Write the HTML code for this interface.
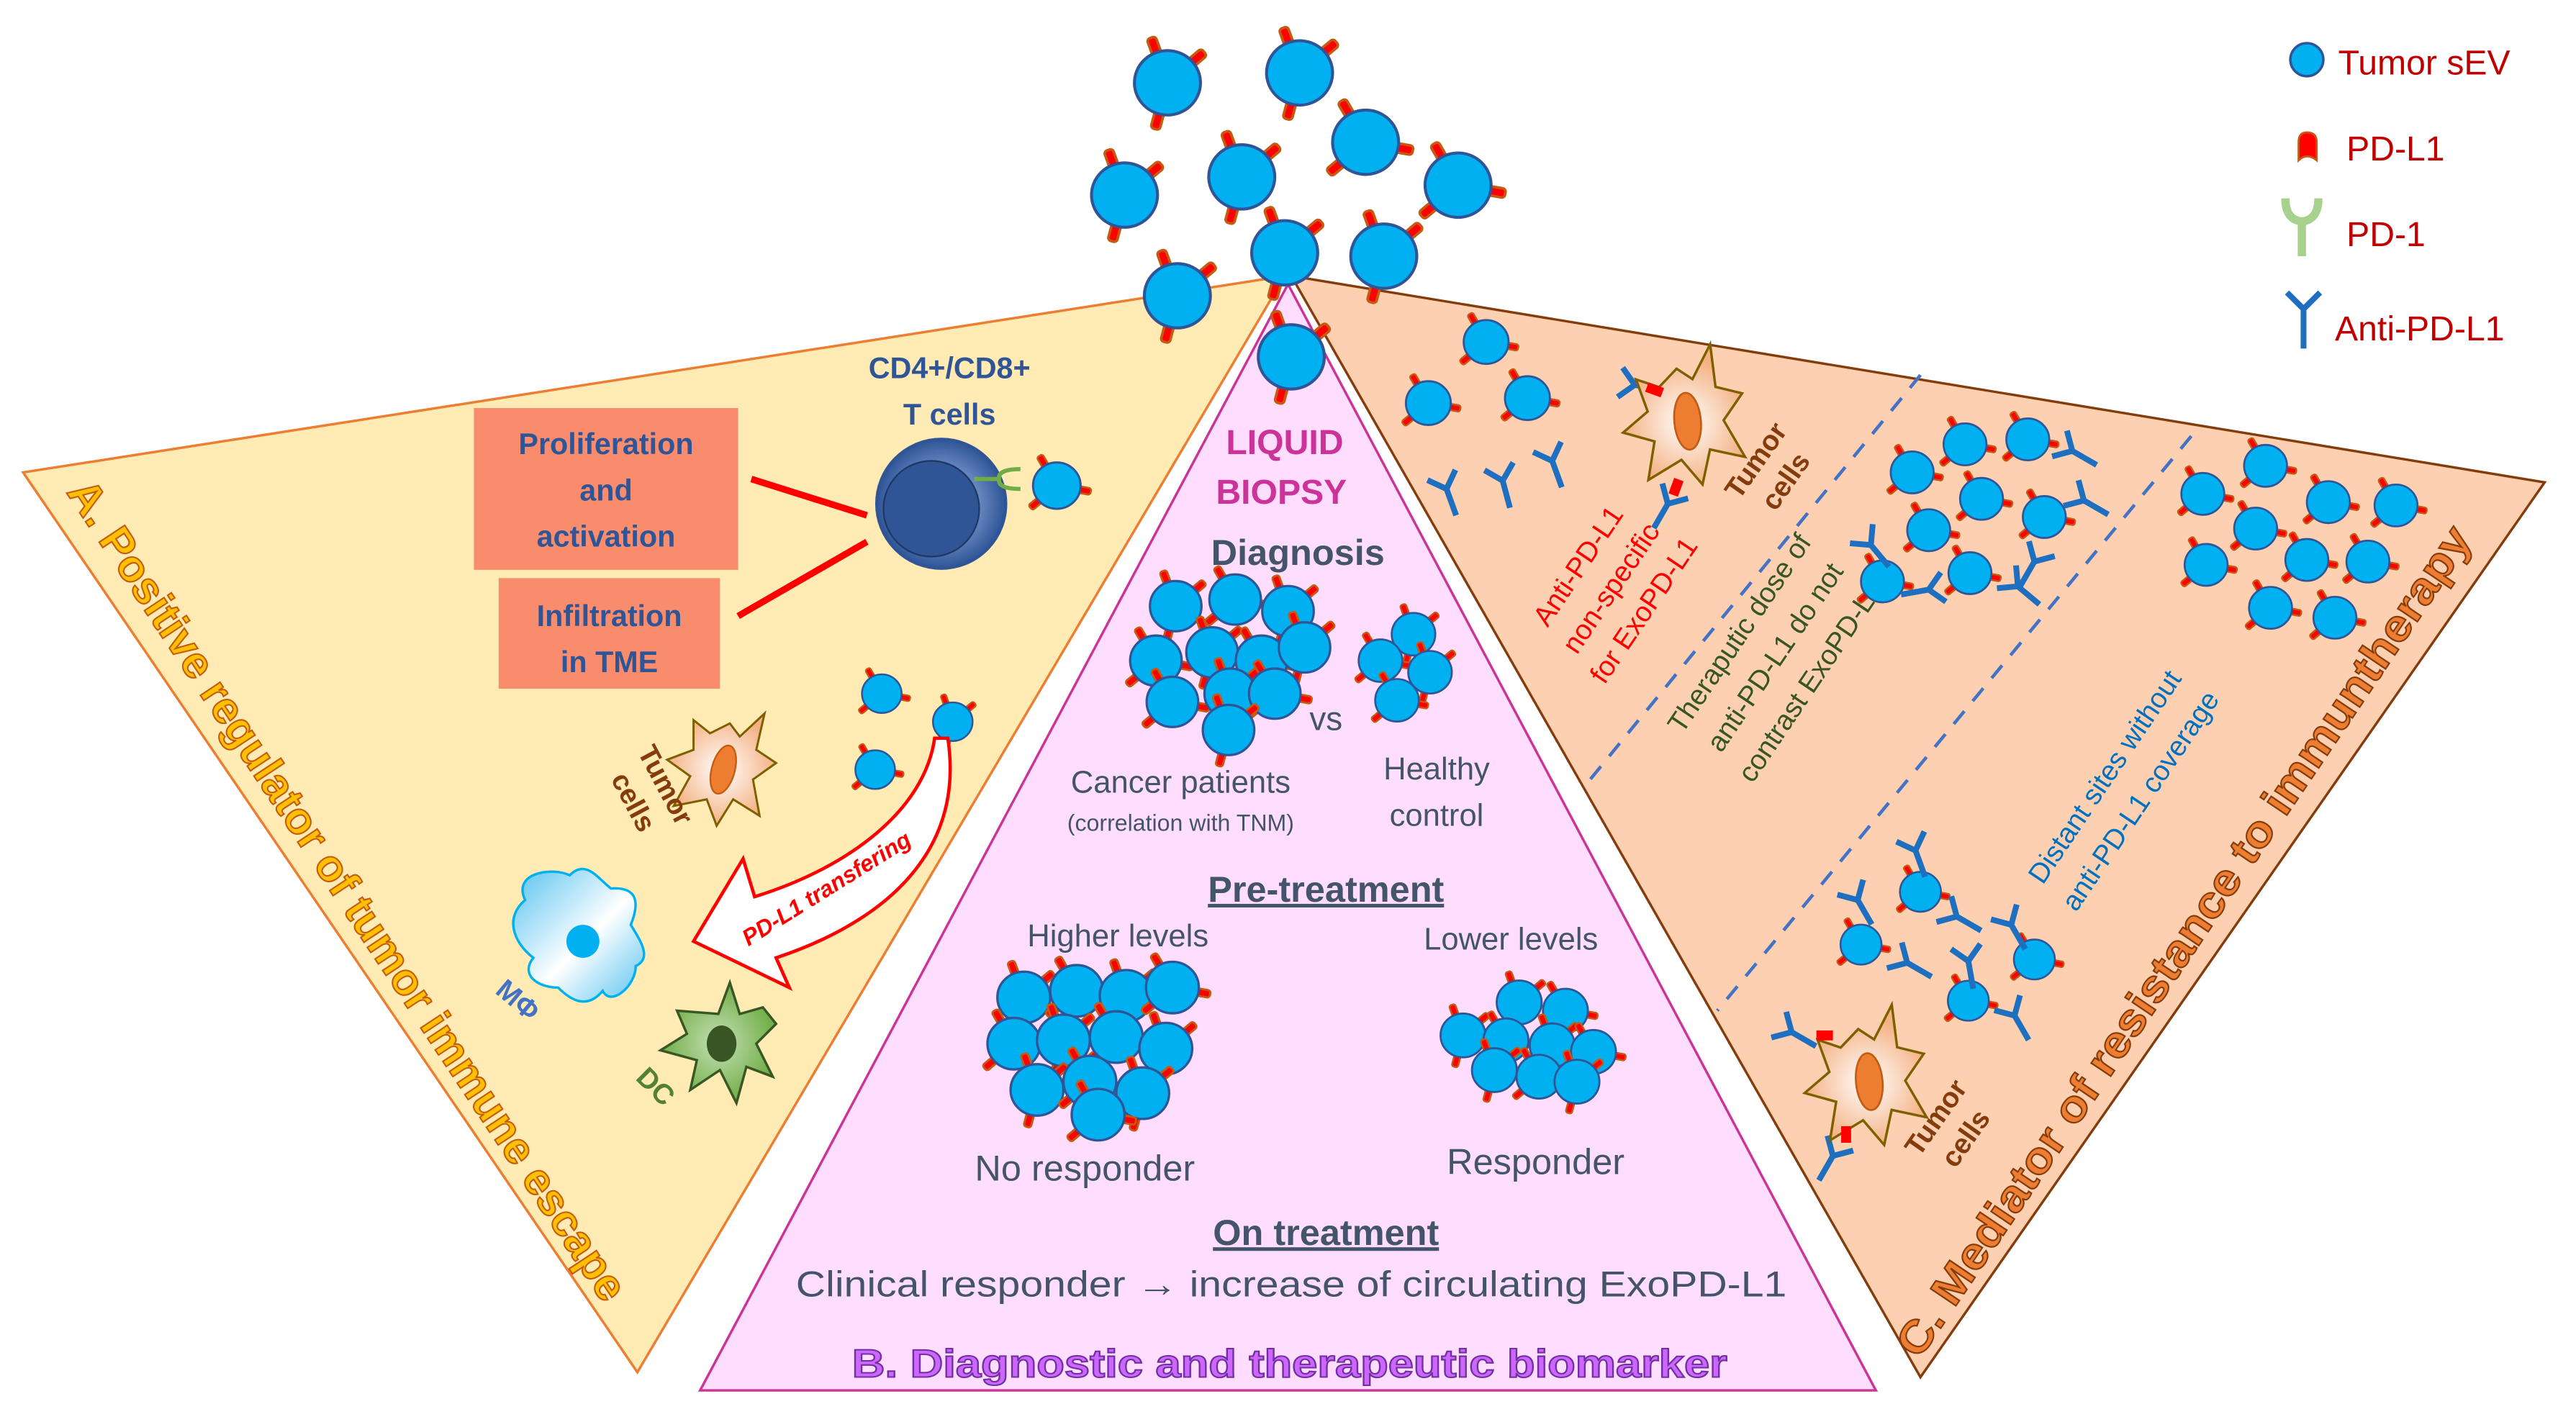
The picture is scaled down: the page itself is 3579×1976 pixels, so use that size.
<!DOCTYPE html>
<html><head><meta charset="utf-8"><style>html,body{margin:0;padding:0;background:#fff}svg{display:block}</style></head>
<body>
<svg width="3579" height="1976" viewBox="0 0 1560 861" xmlns="http://www.w3.org/2000/svg" font-family="'Liberation Sans', sans-serif">
<defs>
<g id="ev">
 <g fill="#FF0000" stroke="#C55A11" stroke-width="1.6">
  <rect x="-2.8" y="-29" width="5.6" height="12" rx="2" transform="rotate(-20)"/>
  <rect x="-2.8" y="-29" width="5.6" height="12" rx="2" transform="rotate(50)"/>
  <rect x="-2.8" y="-29" width="5.6" height="12" rx="2" transform="rotate(195)"/>
 </g>
 <ellipse rx="20" ry="19.5" fill="#00B0F0" stroke="#2F5597" stroke-width="1.8"/>
</g>
<g id="ev2">
 <g fill="#FF0000" stroke="#C55A11" stroke-width="1.6">
  <rect x="-2.8" y="-29" width="5.6" height="12" rx="2" transform="rotate(-30)"/>
  <rect x="-2.8" y="-29" width="5.6" height="12" rx="2" transform="rotate(100)"/>
  <rect x="-2.8" y="-29" width="5.6" height="12" rx="2" transform="rotate(230)"/>
 </g>
 <ellipse rx="20" ry="19.5" fill="#00B0F0" stroke="#2F5597" stroke-width="1.8"/>
</g>
<path id="ab" d="M0,0 V17 M0,0 L-9,-9 M0,0 L9,-9" stroke="#1F6FC0" stroke-width="3.5" fill="none"/>
<radialGradient id="tg"><stop offset="0" stop-color="#fff"/><stop offset="1" stop-color="#F4B183"/></radialGradient>
<radialGradient id="tc"><stop offset="0.3" stop-color="#8FAADC"/><stop offset="1" stop-color="#2F5597"/></radialGradient>
<linearGradient id="mg" x1="0" y1="0" x2="1" y2="1"><stop offset="0" stop-color="#57C2F0"/><stop offset="0.55" stop-color="#fff"/><stop offset="1" stop-color="#57C2F0"/></linearGradient>
<radialGradient id="dg"><stop offset="0" stop-color="#C5E0B4"/><stop offset="1" stop-color="#70AD47"/></radialGradient>
<g id="tumor">
 <path d="M-18,-30 L-8,-22 L4,-28 L10,-20 L25,-34 L20,-12 L32,-4 L18,6 L22,28 L6,18 L-4,34 L-10,18 L-30,22 L-20,4 L-34,-6 L-18,-12 Z" fill="url(#tg)" stroke="#7F6000" stroke-width="1.3"/>
 <ellipse rx="7" ry="15" transform="rotate(15)" fill="#ED7D31" stroke="#C55A11" stroke-width="1"/>
</g>
</defs>

<polygon points="14,286 778,167 386,831" fill="#FFEBB3" stroke="#ED7D31" stroke-width="1.5"/>
<polygon points="782,167 1541,292 1163,834" fill="#FCD0B1" stroke="#843C0C" stroke-width="1.5"/>
<polygon points="780,172 424,842 1136,842" fill="#FFDDFF" stroke="#CC3399" stroke-width="1.5"/>

<use href="#ev" transform="translate(707,50)"/>
<use href="#ev" transform="translate(787,44)"/>
<use href="#ev2" transform="translate(827,86)"/>
<use href="#ev" transform="translate(681,118)"/>
<use href="#ev" transform="translate(752,107)"/>
<use href="#ev2" transform="translate(883,112)"/>
<use href="#ev" transform="translate(778,153)"/>
<use href="#ev" transform="translate(838,155)"/>
<use href="#ev" transform="translate(713,179)"/>
<use href="#ev" transform="translate(782,216)"/>

<circle cx="1397" cy="36" r="10" fill="#00B0F0" stroke="#2F5597" stroke-width="1.5"/>
<text x="1416" y="45" font-size="21" fill="#C00000">Tumor sEV</text>
<path d="M1392,97 V86 Q1392,80 1397,80 Q1403,80 1403,86 V97 Q1397,92 1392,97 Z" fill="#FF0000" stroke="#C55A11" stroke-width="1.2"/>
<text x="1421" y="97" font-size="21" fill="#C00000">PD-L1</text>
<path d="M1384,120 Q1384,133 1394,134 Q1404,133 1404,120 M1394,134 V155" stroke="#A9D18E" stroke-width="5" fill="none"/>
<text x="1421" y="149" font-size="21" fill="#C00000">PD-1</text>
<path d="M1395,187 V211 M1395,187 L1385,177 M1395,187 L1405,177" stroke="#1F6FC0" stroke-width="3.5" fill="none"/>
<text x="1414" y="206" font-size="21" fill="#C00000">Anti-PD-L1</text>

<text x="575" y="229" font-size="18" font-weight="bold" fill="#2F5597" text-anchor="middle">CD4+/CD8+</text>
<text x="575" y="257" font-size="18" font-weight="bold" fill="#2F5597" text-anchor="middle">T cells</text>
<rect x="287" y="247" width="160" height="98" fill="#F98C6C"/>
<text font-size="18" font-weight="bold" fill="#2F5597" text-anchor="middle"><tspan x="367" y="275">Proliferation</tspan><tspan x="367" y="303">and</tspan><tspan x="367" y="331">activation</tspan></text>
<rect x="302" y="350" width="134" height="67" fill="#F98C6C"/>
<text font-size="18" font-weight="bold" fill="#2F5597" text-anchor="middle"><tspan x="369" y="379">Infiltration</tspan><tspan x="369" y="407">in TME</tspan></text>
<line x1="455" y1="290" x2="525" y2="312" stroke="#FF0000" stroke-width="4"/>
<line x1="447" y1="373" x2="525" y2="328" stroke="#FF0000" stroke-width="4"/>
<circle cx="570" cy="305" r="39" fill="url(#tc)" stroke="#2F5597" stroke-width="2"/>
<circle cx="564" cy="308" r="29" fill="#2F5597" stroke="#1F3864" stroke-width="1"/>
<path d="M590,290 H605 M618,284 Q604,284 605,290 Q604,296 618,296" stroke="#70AD47" stroke-width="2.5" fill="none"/>
<use href="#ev2" transform="translate(640,294) scale(0.72)"/>
<use href="#ev2" transform="translate(534,420) scale(0.6)"/>
<use href="#ev" transform="translate(577,437) scale(0.6)"/>
<use href="#ev2" transform="translate(530,466) scale(0.6)"/>
<use href="#tumor" transform="translate(438,466)"/>
<text font-size="17" font-weight="bold" fill="#843C0C" text-anchor="middle" transform="translate(398,478) rotate(62)"><tspan x="0" y="0">Tumor</tspan><tspan x="0" y="22">cells</tspan></text>
<path d="M574,447 C585,520 530,560 470,580 L478,598 L420,570 L450,520 L457,543 C515,525 560,490 566,447 Z" fill="#fff" stroke="#FF0000" stroke-width="2"/>
<text x="0" y="0" font-size="14" font-weight="bold" font-style="italic" fill="#FF0000" text-anchor="middle" transform="translate(503,542) rotate(-32)">PD-L1 transfering</text>
<path d="M318,545 C310,528 335,525 345,530 C355,520 362,532 370,538 C385,537 388,545 382,560 C388,570 395,580 385,585 C385,597 370,610 365,600 C355,612 345,605 338,598 C325,598 315,590 323,580 C310,570 306,555 318,545 Z" fill="url(#mg)" stroke="#00B0F0" stroke-width="1.5"/>
<circle cx="353" cy="570" r="10" fill="#00B0F0"/>
<text font-size="17" font-weight="bold" fill="#4472C4" text-anchor="middle" transform="translate(310,610) rotate(40)">MΦ</text>
<path d="M435,614 L442,595 L448,614 L462,610 L470,620 L458,632 L468,652 L452,646 L446,668 L436,648 L418,660 L422,642 L400,636 L416,626 L410,612 Z" fill="url(#dg)" stroke="#385723" stroke-width="1.5"/>
<ellipse cx="437" cy="632" rx="9" ry="11" fill="#375623"/>
<text font-size="17" font-weight="bold" fill="#548235" text-anchor="middle" transform="translate(393,662) rotate(45)">DC</text>
<text font-size="27" font-weight="bold" fill="#FFC000" stroke="#C55A11" stroke-width="0.9" transform="translate(40,298) rotate(56.5)" textLength="590" lengthAdjust="spacingAndGlyphs">A. Positive regulator of tumor immune escape</text>

<text x="778" y="275" font-size="21" font-weight="bold" fill="#CC3399" text-anchor="middle">LIQUID</text>
<text x="776" y="305" font-size="21" font-weight="bold" fill="#CC3399" text-anchor="middle">BIOPSY</text>
<text x="786" y="342" font-size="22" font-weight="bold" fill="#44546A" text-anchor="middle">Diagnosis</text>
<g>
<use href="#ev" transform="translate(712,367) scale(0.78)"/>
<use href="#ev2" transform="translate(748,363) scale(0.78)"/>
<use href="#ev" transform="translate(780,370) scale(0.78)"/>
<use href="#ev2" transform="translate(700,400) scale(0.78)"/>
<use href="#ev" transform="translate(734,395) scale(0.78)"/>
<use href="#ev2" transform="translate(764,400) scale(0.78)"/>
<use href="#ev" transform="translate(790,392) scale(0.78)"/>
<use href="#ev2" transform="translate(710,425) scale(0.78)"/>
<use href="#ev" transform="translate(745,420) scale(0.78)"/>
<use href="#ev2" transform="translate(772,420) scale(0.78)"/>
<use href="#ev" transform="translate(744,442) scale(0.78)"/>
</g>
<text x="803" y="442" font-size="20" fill="#44546A" text-anchor="middle">vs</text>
<use href="#ev" transform="translate(856,384) scale(0.66)"/>
<use href="#ev2" transform="translate(836,400) scale(0.66)"/>
<use href="#ev" transform="translate(866,407) scale(0.66)"/>
<use href="#ev2" transform="translate(846,424) scale(0.66)"/>
<text x="715" y="480" font-size="19" fill="#44546A" text-anchor="middle">Cancer patients</text>
<text x="715" y="503" font-size="14" fill="#44546A" text-anchor="middle">(correlation with TNM)</text>
<text x="870" y="472" font-size="19" fill="#44546A" text-anchor="middle">Healthy</text>
<text x="870" y="500" font-size="19" fill="#44546A" text-anchor="middle">control</text>
<text x="803" y="546" font-size="22" font-weight="bold" fill="#44546A" text-anchor="middle" text-decoration="underline">Pre-treatment</text>
<text x="677" y="573" font-size="19" fill="#44546A" text-anchor="middle">Higher levels</text>
<text x="915" y="575" font-size="19" fill="#44546A" text-anchor="middle">Lower levels</text>
<g>
<use href="#ev" transform="translate(620,604) scale(0.8)"/>
<use href="#ev2" transform="translate(652,600) scale(0.8)"/>
<use href="#ev" transform="translate(682,603) scale(0.8)"/>
<use href="#ev2" transform="translate(710,598) scale(0.8)"/>
<use href="#ev2" transform="translate(614,632) scale(0.8)"/>
<use href="#ev" transform="translate(644,630) scale(0.8)"/>
<use href="#ev2" transform="translate(676,628) scale(0.8)"/>
<use href="#ev" transform="translate(706,635) scale(0.8)"/>
<use href="#ev" transform="translate(628,660) scale(0.8)"/>
<use href="#ev2" transform="translate(660,655) scale(0.8)"/>
<use href="#ev" transform="translate(692,662) scale(0.8)"/>
<use href="#ev2" transform="translate(665,675) scale(0.8)"/>
</g>
<g>
<use href="#ev" transform="translate(920,607) scale(0.68)"/>
<use href="#ev2" transform="translate(948,612) scale(0.68)"/>
<use href="#ev" transform="translate(886,627) scale(0.68)"/>
<use href="#ev2" transform="translate(912,630) scale(0.68)"/>
<use href="#ev" transform="translate(940,633) scale(0.68)"/>
<use href="#ev2" transform="translate(965,637) scale(0.68)"/>
<use href="#ev" transform="translate(905,648) scale(0.68)"/>
<use href="#ev2" transform="translate(932,652) scale(0.68)"/>
<use href="#ev" transform="translate(955,655) scale(0.68)"/>
</g>
<text x="657" y="715" font-size="22" fill="#44546A" text-anchor="middle">No responder</text>
<text x="930" y="711" font-size="22" fill="#44546A" text-anchor="middle">Responder</text>
<text x="803" y="754" font-size="22" font-weight="bold" fill="#44546A" text-anchor="middle" text-decoration="underline">On treatment</text>
<text x="782" y="785" font-size="22" fill="#44546A" text-anchor="middle" textLength="600" lengthAdjust="spacingAndGlyphs">Clinical responder → increase of circulating ExoPD-L1</text>
<text x="781" y="834" font-size="24" font-weight="bold" fill="#CC66FF" stroke="#7030A0" stroke-width="0.9" text-anchor="middle" textLength="530" lengthAdjust="spacingAndGlyphs">B. Diagnostic and therapeutic biomarker</text>

<use href="#ev2" transform="translate(900,207) scale(0.68)"/>
<use href="#ev2" transform="translate(865,244) scale(0.68)"/>
<use href="#ev2" transform="translate(925,241) scale(0.68)"/>
<use href="#ab" transform="translate(876,296) rotate(-20)"/>
<use href="#ab" transform="translate(910,291) rotate(-15)"/>
<use href="#ab" transform="translate(940,279) rotate(-20)"/>
<use href="#ab" transform="translate(990,233) rotate(-80)"/>
<use href="#ab" transform="translate(1010,305) rotate(30)"/>
<use href="#tumor" transform="translate(1022,255) rotate(-20) scale(1.15)"/>
<rect x="997" y="233" width="10" height="6" fill="#FF0000" transform="rotate(20 1002 236)"/>
<rect x="1012" y="290" width="6" height="10" fill="#FF0000" transform="rotate(20 1015 295)"/>
<text font-size="17" font-weight="bold" fill="#843C0C" text-anchor="middle" transform="translate(1068,282) rotate(-55)"><tspan x="0" y="0">Tumor</tspan><tspan x="0" y="22">cells</tspan></text>
<text font-size="17" fill="#FF0000" text-anchor="middle" transform="translate(977,357) rotate(-56)"><tspan x="0" y="-20">Anti-PD-L1</tspan><tspan x="0" y="4">non-specific</tspan><tspan x="0" y="28">for ExoPD-L1</tspan></text>
<line x1="1163" y1="227" x2="963" y2="472" stroke="#4472C4" stroke-width="2" stroke-dasharray="10,8"/>
<line x1="1327" y1="264" x2="1040" y2="612" stroke="#4472C4" stroke-width="2" stroke-dasharray="10,8"/>
<text font-size="17" fill="#375623" text-anchor="middle" transform="translate(1078,400) rotate(-56)"><tspan x="0" y="-24">Theraputic dose of</tspan><tspan x="0" y="2">anti-PD-L1 do not</tspan><tspan x="0" y="28">contrast  ExoPD-L1</tspan></text>
<text font-size="17" fill="#0070C0" text-anchor="middle" transform="translate(1286,478) rotate(-56)"><tspan x="0" y="-8">Distant sites without</tspan><tspan x="0" y="18">anti-PD-L1 coverage</tspan></text>
<g>
<use href="#ev2" transform="translate(1158,286) scale(0.65)"/>
<use href="#ev2" transform="translate(1190,269) scale(0.65)"/>
<use href="#ev2" transform="translate(1228,266) scale(0.65)"/>
<use href="#ev2" transform="translate(1200,302) scale(0.65)"/>
<use href="#ev2" transform="translate(1168,321) scale(0.65)"/>
<use href="#ev2" transform="translate(1238,313) scale(0.65)"/>
<use href="#ev2" transform="translate(1140,352) scale(0.65)"/>
<use href="#ev2" transform="translate(1193,347) scale(0.65)"/>
<use href="#ab" transform="translate(1255,273) rotate(-60)"/>
<use href="#ab" transform="translate(1262,303) rotate(-60)"/>
<use href="#ab" transform="translate(1232,340) rotate(30)"/>
<use href="#ab" transform="translate(1133,330) rotate(-40)"/>
<use href="#ab" transform="translate(1168,357) rotate(80)"/>
<use href="#ab" transform="translate(1222,355) rotate(-50)"/>
</g>
<g>
<use href="#ev2" transform="translate(1334,299) scale(0.65)"/>
<use href="#ev2" transform="translate(1372,282) scale(0.65)"/>
<use href="#ev2" transform="translate(1410,304) scale(0.65)"/>
<use href="#ev2" transform="translate(1451,306) scale(0.65)"/>
<use href="#ev2" transform="translate(1366,320) scale(0.65)"/>
<use href="#ev2" transform="translate(1336,342) scale(0.65)"/>
<use href="#ev2" transform="translate(1397,339) scale(0.65)"/>
<use href="#ev2" transform="translate(1434,340) scale(0.65)"/>
<use href="#ev2" transform="translate(1375,368) scale(0.65)"/>
<use href="#ev2" transform="translate(1414,374) scale(0.65)"/>
</g>
<g>
<use href="#ev2" transform="translate(1163,540) scale(0.62)"/>
<use href="#ev2" transform="translate(1127,572) scale(0.62)"/>
<use href="#ev2" transform="translate(1232,581) scale(0.62)"/>
<use href="#ev2" transform="translate(1192,606) scale(0.62)"/>
<use href="#ab" transform="translate(1160,515) rotate(-20)"/>
<use href="#ab" transform="translate(1125,545) rotate(-30)"/>
<use href="#ab" transform="translate(1185,555) rotate(-60)"/>
<use href="#ab" transform="translate(1155,583) rotate(-60)"/>
<use href="#ab" transform="translate(1192,582) rotate(-10)"/>
<use href="#ab" transform="translate(1218,560) rotate(-30)"/>
<use href="#ab" transform="translate(1220,615) rotate(-30)"/>
<use href="#ab" transform="translate(1085,625) rotate(-60)"/>
<use href="#ab" transform="translate(1110,700) rotate(30)"/>
</g>
<use href="#tumor" transform="translate(1132,655) rotate(-20) scale(1.15)"/>
<rect x="1100" y="624" width="10" height="6" fill="#FF0000"/>
<rect x="1115" y="682" width="6" height="10" fill="#FF0000"/>
<text font-size="17" font-weight="bold" fill="#843C0C" text-anchor="middle" transform="translate(1177,680) rotate(-55)"><tspan x="0" y="0">Tumor</tspan><tspan x="0" y="22">cells</tspan></text>
<text font-size="27" font-weight="bold" fill="#ED7D31" stroke="#843C0C" stroke-width="0.9" text-anchor="middle" transform="translate(1330,575) rotate(-56)" textLength="600" lengthAdjust="spacingAndGlyphs">C. Mediator of resistance to immuntherapy</text>
</svg>
</body></html>
